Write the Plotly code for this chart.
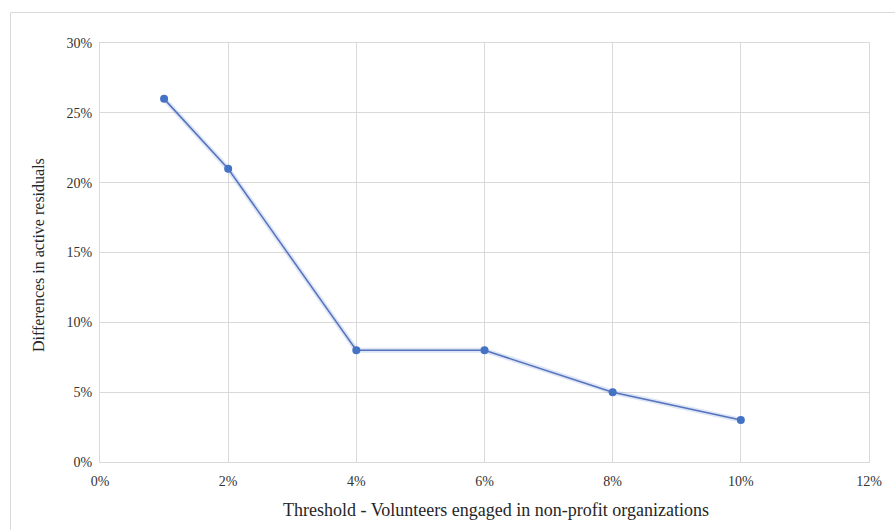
import plotly.graph_objects as go

# Threshold (share of volunteers) vs. difference in active residuals
thresholds = [0.01, 0.02, 0.04, 0.06, 0.08, 0.10]
differences = [0.26, 0.21, 0.08, 0.08, 0.05, 0.03]

x_ticks = [0, 0.02, 0.04, 0.06, 0.08, 0.10, 0.12]
x_tick_text = ["0%", "2%", "4%", "6%", "8%", "10%", "12%"]
y_ticks = [0, 0.05, 0.10, 0.15, 0.20, 0.25, 0.30]
y_tick_text = ["0%", "5%", "10%", "15%", "20%", "25%", "30%"]

W, H = 895, 530
L, R, T, B = 100, 26, 43, 68
pw, ph = W - L - R, H - T - B

font = "'Liberation Serif', 'Times New Roman', serif"

fig = go.Figure()

# soft glow under the line
fig.add_trace(go.Scatter(
    x=thresholds, y=differences, mode="lines",
    line=dict(color="rgba(120,150,220,0.25)", width=5),
    hoverinfo="skip", showlegend=False,
))
fig.add_trace(go.Scatter(
    x=thresholds, y=differences, mode="lines+markers",
    line=dict(color="#5573bd", width=1.5),
    marker=dict(color="#4472c4", size=8, line=dict(width=0)),
    showlegend=False,
))

fig.update_layout(
    width=W, height=H,
    margin=dict(l=L, r=R, t=T, b=B),
    paper_bgcolor="white", plot_bgcolor="white",
    font=dict(family=font, size=14, color="#333333"),
    xaxis=dict(
        range=[0, 0.12], tickvals=x_ticks, ticktext=x_tick_text,
        showgrid=True, gridcolor="#d9d9d9", gridwidth=1,
        zeroline=False, showline=True, linecolor="#d9d9d9", mirror=True,
        ticks="", ticklabelstandoff=6,
    ),
    yaxis=dict(
        range=[0, 0.30], tickvals=y_ticks, ticktext=y_tick_text,
        showgrid=True, gridcolor="#d9d9d9", gridwidth=1,
        zeroline=False, showline=True, linecolor="#d9d9d9", mirror=True,
        ticks="", ticklabelstandoff=4,
    ),
    shapes=[dict(
        type="rect", xref="paper", yref="paper",
        x0=(10.5 - L) / pw, x1=(W + 5 - L) / pw,
        y0=-(H + 5 - T - ph) / ph, y1=(H - 12.5 - B) / ph,
        line=dict(color="#d9d9d9", width=1), fillcolor="rgba(0,0,0,0)",
        layer="below",
    )],
    annotations=[
        dict(text="Threshold - Volunteers engaged in non-profit organizations",
             xref="paper", yref="paper",
             x=(496 - L) / pw, y=-(510 - T - ph) / ph,
             xanchor="center", yanchor="middle", showarrow=False,
             font=dict(family=font, size=18, color="#262626")),
        dict(text="Differences in active residuals",
             xref="paper", yref="paper",
             x=(38 - L) / pw, y=(H - 255 - B) / ph,
             xanchor="center", yanchor="middle", showarrow=False, textangle=-90,
             font=dict(family=font, size=16, color="#262626")),
    ],
)

fig.write_html("out.html")
